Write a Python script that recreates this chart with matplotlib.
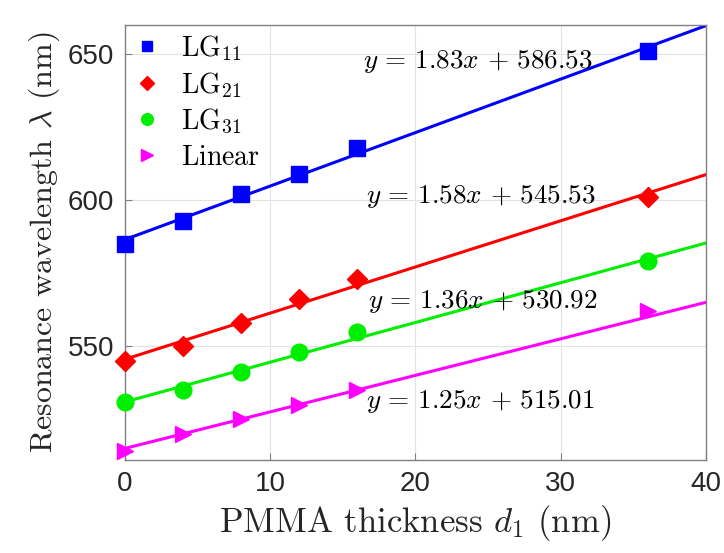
import numpy as np
import matplotlib
matplotlib.use("Agg")
import matplotlib.pyplot as plt

plt.rcParams['mathtext.fontset'] = 'cm'
plt.rcParams['axes.unicode_minus'] = False

# PMMA thickness (nm)
thickness = [0, 4, 8, 12, 16, 36]

# resonance wavelengths
lg11 = [585, 593, 602, 609, 618, 651]
lg21 = [545, 550, 558, 566, 573, 601]
lg31 = [531, 535, 541, 548, 555, 579]
linear = [514, 520, 525, 530, 535, 562]

# fitted lines (slope, intercept) as printed on the figure
fits = [(1.83, 586.53), (1.58, 545.53), (1.36, 530.92), (1.25, 515.01)]
fit_text_pos = [(16.4, 647.5), (16.6, 601.2), (16.7, 565.4), (16.6, 531.2)]

names = [r'$\mathrm{LG}_{11}$', r'$\mathrm{LG}_{21}$', r'$\mathrm{LG}_{31}$', r'$\mathrm{Linear}$']
colors = ['#0000ff', '#ff0000', '#00ee00', '#ff00ff']
markers = ['s', 'D', 'o', '>']
msizes = [11, 10, 12, 12]

fig = plt.figure(figsize=(7.24, 5.53), dpi=100)
ax = fig.add_axes([0.1727, 0.168, 0.8023, 0.787])

xx = np.array([0, 40])
series = [lg11, lg21, lg31, linear]
for ys, (m, b), c, mk, ms, nm in zip(series, fits, colors, markers, msizes, names):
    ax.plot(xx, m * xx + b, '-', color=c, lw=2.2)
    ax.plot(thickness, ys, mk, color=c, ms=ms, label=nm, clip_on=False, zorder=3)

for (m, b), (tx, ty) in zip(fits, fit_text_pos):
    ax.text(tx, ty, r'$y\,=\,%.2fx\,+\,%.2f$' % (m, b), fontsize=19.5, va='center', ha='left')

ax.set_xlim(0, 40)
ax.set_ylim(511, 660)
ax.set_xticks([0, 10, 20, 30, 40])
ax.set_yticks([550, 600, 650])
ax.grid(True, color='#e3e3e3', lw=0.8)
ax.set_axisbelow(True)
ax.tick_params(direction='in', length=5, color='#808080', labelsize=20, labelcolor='#262626', pad=8)
for lab in ax.get_xticklabels() + ax.get_yticklabels():
    lab.set_family('Liberation Sans')
for s in ax.spines.values():
    s.set_color('#808080')
    s.set_linewidth(1.0)

ax.set_xlabel(r'PMMA thickness $d_1$ (nm)', fontsize=25, color='#262626', family='cmr10', labelpad=4)
ax.set_ylabel(r'Resonance wavelength $\lambda$ (nm)', fontsize=23, color='#262626', family='cmr10')

leg = ax.legend(loc='upper left', frameon=False, fontsize=20, handletextpad=0.7, handlelength=1.0,
                borderaxespad=0.0, borderpad=0.3, labelspacing=0.25, markerscale=0.7)

fig.savefig('out.png', dpi=100)
